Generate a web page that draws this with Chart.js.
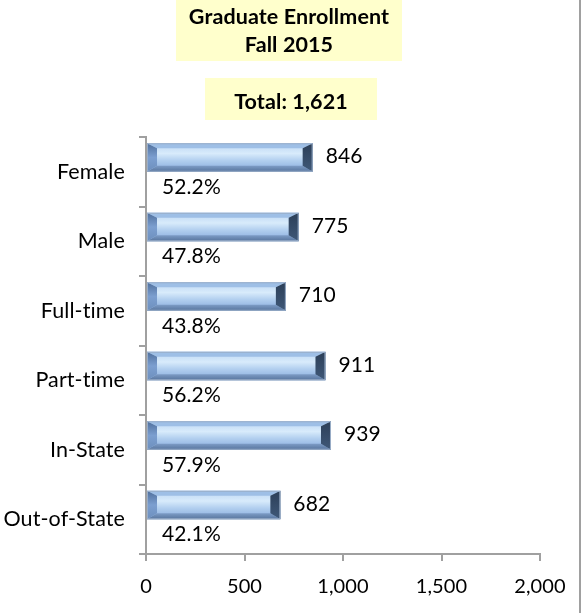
<!DOCTYPE html>
<html>
<head>
<meta charset="utf-8">
<script src="https://cdn.jsdelivr.net/npm/chart.js@4"></script>
<style>
  html, body { margin: 0; padding: 0; background: #fff; }
  #wrap { width: 583px; height: 613px; position: relative; }
</style>
</head>
<body>
<div id="wrap"><canvas id="enrollChart"></canvas></div>
<script>
const categories = ["Female", "Male", "Full-time", "Part-time", "In-State", "Out-of-State"];
const counts = [846, 775, 710, 911, 939, 682];
const percents = ["52.2%", "47.8%", "43.8%", "56.2%", "57.9%", "42.1%"];
const titleLines = ["Graduate Enrollment", "Fall 2015"];
const totalText = "Total: 1,621";
const xTicks = [0, 500, 1000, 1500, 2000];

const FONT = "Lato, 'Noto Sans', sans-serif";

// yellow title boxes, right border line
const boxPlugin = {
    id: "boxes",
    beforeDraw(chart) {
        const c = chart.ctx;
        // a tiny letter spacing keeps Lato from joining "ti"
        c.letterSpacing = "0.1px";
        c.save();
        c.fillStyle = "#ffffcc";
        c.fillRect(176, 0, 226, 61);
        c.fillRect(205, 78, 172, 42);
        c.fillStyle = "#000";
        c.font = "bold 21.5px " + FONT;
        c.textAlign = "center";
        c.textBaseline = "middle";
        c.fillText(titleLines[0], 289, 17);
        c.fillText(titleLines[1], 289, 45);
        c.fillText(totalText, 291, 102);
        c.strokeStyle = "#a0a0a0";
        c.lineWidth = 2;
        c.beginPath();
        c.moveTo(580, 0);
        c.lineTo(580, 613);
        c.stroke();
        c.restore();
    }
};

function poly(c, pts, fill) {
    c.fillStyle = fill;
    c.beginPath();
    c.moveTo(pts[0][0], pts[0][1]);
    for (let k = 1; k < pts.length; k++) c.lineTo(pts[k][0], pts[k][1]);
    c.closePath();
    c.fill();
}

// bevel shading on the bars and the value / percent labels
const labelPlugin = {
    id: "labels",
    afterDatasetsDraw(chart) {
        const c = chart.ctx;
        const bars = chart.getDatasetMeta(0).data;
        const spacers = chart.getDatasetMeta(1).data;
        c.save();
        bars.forEach((bar, i) => {
            const top = bar.y - bar.height / 2;
            const bot = bar.y + bar.height / 2;
            const left = bar.base;
            const right = bar.x;
            const bx = 10, bt = 5, bb = 6;

            const face = c.createLinearGradient(0, top + bt, 0, bot - bb);
            face.addColorStop(0, "#c9e0f7");
            face.addColorStop(0.3, "#d8ebfb");
            face.addColorStop(0.7, "#b2cfef");
            face.addColorStop(1, "#9dbde6");
            c.fillStyle = face;
            c.fillRect(left, top, right - left, bot - top);

            // top strip
            poly(c, [[left, top], [right, top], [right - bx, top + bt], [left + bx, top + bt]], "#9ebfe6");
            // bottom strip
            const bg = c.createLinearGradient(0, bot - bb, 0, bot);
            bg.addColorStop(0, "#7d9cc6");
            bg.addColorStop(1, "#56739c");
            poly(c, [[left, bot], [right, bot], [right - bx, bot - bb], [left + bx, bot - bb]], bg);
            // left end
            const lg = c.createLinearGradient(0, top, 0, bot);
            lg.addColorStop(0, "#4f6f9c");
            lg.addColorStop(0.5, "#7c9fd0");
            lg.addColorStop(1, "#6d8fbd");
            poly(c, [[left, top], [left + bx, top + bt], [left + bx, bot - bb], [left, bot]], lg);
            // right end
            const rg = c.createLinearGradient(0, top, 0, bot);
            rg.addColorStop(0, "#2c3f58");
            rg.addColorStop(1, "#3f5878");
            poly(c, [[right, top], [right - bx, top + bt], [right - bx, bot - bb], [right, bot]], rg);

            c.strokeStyle = "#9aaec8";
            c.lineWidth = 1;
            c.strokeRect(left + 0.5, top + 0.5, right - left - 1, bot - top - 1);

            c.fillStyle = "#000";
            c.font = "21px " + FONT;
            c.textAlign = "left";
            c.textBaseline = "middle";
            c.fillText(String(counts[i]), right + 13, bar.y - 1);
            c.fillText(percents[i], chart.chartArea.left + 16, spacers[i].y + 1);
        });
        c.restore();
    }
};

new Chart(document.getElementById("enrollChart"), {
    type: "bar",
    data: {
        labels: categories,
        datasets: [
            {
                label: "Enrollment",
                data: counts,
                backgroundColor: "#a9c4e6",
                borderColor: "#7f9fc6",
                borderWidth: 1,
                categoryPercentage: 0.82,
                barPercentage: 1.0
            },
            {
                label: "spacer",
                data: counts.map(() => 0),
                backgroundColor: "rgba(0,0,0,0)",
                categoryPercentage: 0.82,
                barPercentage: 1.0
            }
        ]
    },
    options: {
        indexAxis: "y",
        responsive: true,
        maintainAspectRatio: false,
        animation: false,
        layout: { padding: { top: 137, right: 43, left: 0, bottom: 0 } },
        plugins: {
            legend: { display: false },
            tooltip: { enabled: false }
        },
        scales: {
            y: {
                grid: { drawOnChartArea: false, tickLength: 7, color: "#a0a0a0", lineWidth: 2 },
                border: { color: "#a0a0a0", width: 2 },
                ticks: { color: "#000", font: { family: FONT, size: 21.5 }, padding: 14 },
                afterFit(scale) { scale.width = 146; }
            },
            x: {
                min: 0,
                max: 2000,
                afterBuildTicks(scale) { scale.ticks = xTicks.map(v => ({ value: v })); },
                grid: { drawOnChartArea: false, tickLength: 7, color: "#a0a0a0", lineWidth: 2 },
                border: { color: "#a0a0a0", width: 2 },
                ticks: {
                    color: "#000",
                    font: { family: FONT, size: 20 },
                    padding: 14,
                    callback: v => v.toLocaleString("en-US")
                },
                afterFit(scale) { scale.height = 59; }
            }
        }
    },
    plugins: [boxPlugin, labelPlugin]
});
</script>
</body>
</html>
